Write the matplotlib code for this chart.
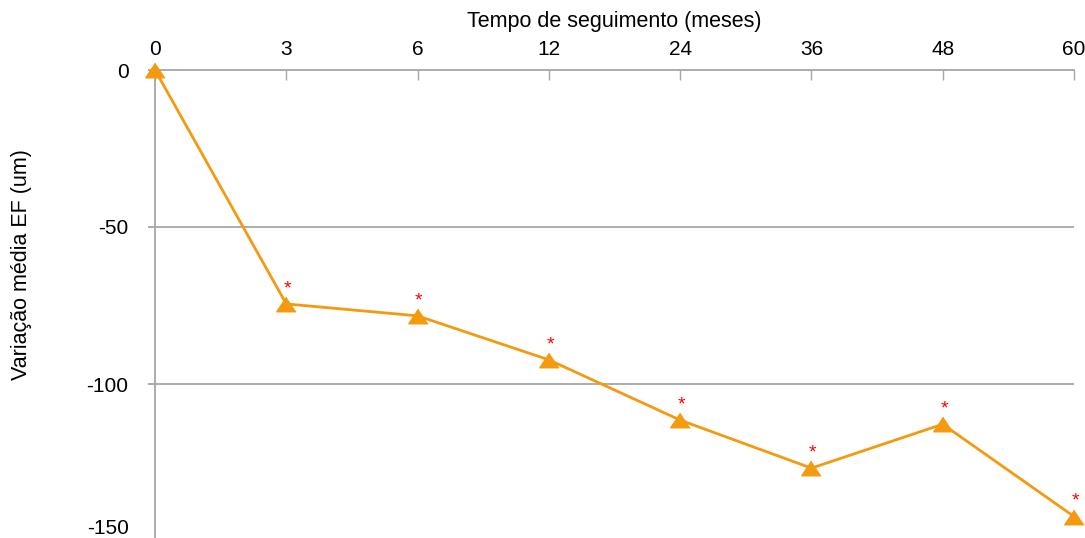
import matplotlib
matplotlib.use("Agg")
import matplotlib.pyplot as plt
from matplotlib.transforms import ScaledTranslation

months = ["0", "3", "6", "12", "24", "36", "48", "60"]
mean_change = [0, -74.5, -78.3, -92.3, -111.5, -126.8, -112.8, -142.2]
significant = [False, True, True, True, True, True, True, True]
yticks = [0, -50, -100, -150]

plt.rcParams['font.family'] = ['Liberation Sans', 'DejaVu Sans']

W, H = 1085, 538
fig = plt.figure(figsize=(W/100, H/100), dpi=100)
ax = fig.add_axes([155/W, (H-541)/H, (1074-155)/W, (541-70)/H])

gray = '#A6A6A6'
orange = '#F39A0F'
x = list(range(len(months)))

ax.set_xlim(0, len(months)-1)
ax.set_ylim(-150, 0)

for yv in yticks[1:-1]:
    ax.axhline(yv, color=gray, lw=1.3, zorder=1)

tri = [(0, 0.75), (-1, -0.75), (1, -0.75)]
ax.plot(x, mean_change, color=orange, lw=2, marker=tri, markersize=14,
        markerfacecolor=orange, markeredgecolor=orange, zorder=3, clip_on=False)

for xi, yi, s in zip(x, mean_change, significant):
    if s:
        ax.annotate('*', (xi, yi), xytext=(1, 11), textcoords='offset points',
                    ha='center', va='center', color='red', fontsize=14, zorder=4,
                    annotation_clip=False)

ax.xaxis.tick_top()
ax.set_xticks(x)
ax.set_xticklabels(months)
ax.set_yticks(yticks)
ax.set_yticklabels([str(v) for v in yticks])

for sp in ['right', 'bottom']:
    ax.spines[sp].set_visible(False)
for sp in ['left', 'top']:
    ax.spines[sp].set_color(gray)
    ax.spines[sp].set_linewidth(1.3)

ax.tick_params(axis='x', direction='in', length=7, width=1, color=gray,
               labelsize=15, pad=8, top=True, bottom=False)
ax.tick_params(axis='y', direction='out', length=5, width=1.3, color=gray,
               labelsize=15, pad=14)

# keep the bottom label inside the canvas, as in the reference
last = ax.get_yticklabels()[-1]
last.set_transform(last.get_transform() + ScaledTranslation(0, 15/100, fig.dpi_scale_trans))

fig.text(614.5/W, 1-22/H, 'Tempo de seguimento (meses)', ha='center', va='center', fontsize=15.5)
fig.text(22/W, 1-265/H, 'Variação média EF (um)', ha='center', va='center',
         rotation=90, fontsize=15.5)

fig.savefig('out.png', dpi=100)
